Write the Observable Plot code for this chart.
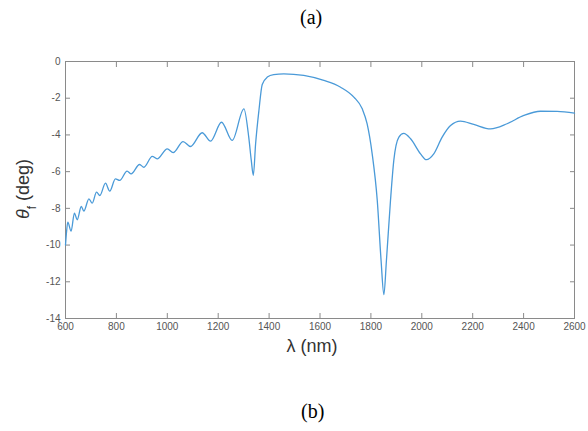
<!DOCTYPE html>
<html>
<head>
<meta charset="utf-8">
<script src="https://cdn.jsdelivr.net/npm/d3@7"></script>
<script src="https://cdn.jsdelivr.net/npm/@observablehq/plot@0.6"></script>
<style>
  html, body { margin: 0; padding: 0; background: #fff; }
  #wrap { position: relative; width: 588px; height: 431px; overflow: hidden; }
  #chart { position: absolute; left: 0; top: 0; }
  .cap { position: absolute; font-family: "Liberation Serif", "DejaVu Serif", serif; font-size: 20px; color: #000; }
  .ylab { position: absolute; font-family: "Liberation Sans", Arial, sans-serif; font-size: 18px; line-height: 22px; color: #333;
          transform: rotate(-90deg); transform-origin: center center; white-space: nowrap; text-align: center; }
  .xlab { position: absolute; font-family: "Liberation Sans", Arial, sans-serif; font-size: 18px; color: #333; white-space: nowrap; text-align: center; }
</style>
</head>
<body>
<div id="wrap">
  <div id="chart"></div>
  <div class="cap" style="left:300px; top:6px;">(a)</div>
  <div class="cap" style="left:301px; top:400px;">(b)</div>
  <div class="ylab" style="left:-22px; top:178px; width:90px; height:22px;"><i>θ</i><sub style="font-size:12px; position:relative; top:2px;">f</sub> (deg)</div>
  <div class="xlab" style="left:252px; top:336px; width:120px;">λ (nm)</div>
</div>
<script>
const lambda = [600, 604, 609, 622, 635, 646, 662, 672, 692, 705, 722, 735, 757, 774, 796, 813, 842, 858, 891, 908, 941, 960, 1000, 1023, 1062, 1091, 1137, 1170, 1213, 1255, 1301, 1320, 1330, 1338, 1347, 1360, 1373, 1393, 1418, 1458, 1536, 1615, 1681, 1733, 1766, 1785, 1805, 1825, 1840, 1851, 1861, 1877, 1890, 1910, 1929, 1956, 1995, 2018, 2047, 2080, 2113, 2152, 2204, 2270, 2335, 2401, 2466, 2532, 2600];
const theta = [-10.0, -9.3, -8.75, -9.24, -8.26, -8.62, -7.90, -8.15, -7.48, -7.72, -7.12, -7.30, -6.63, -7.06, -6.39, -6.48, -5.97, -6.12, -5.61, -5.76, -5.17, -5.30, -4.76, -4.96, -4.36, -4.63, -3.88, -4.34, -3.31, -4.30, -2.58, -4.12, -5.39, -6.2, -4.48, -2.67, -1.25, -0.85, -0.71, -0.67, -0.76, -1.03, -1.40, -1.94, -2.58, -3.39, -5.03, -7.57, -10.84, -12.7, -10.84, -7.57, -5.39, -4.12, -3.92, -4.21, -5.03, -5.35, -5.03, -4.12, -3.49, -3.25, -3.43, -3.67, -3.39, -2.94, -2.71, -2.72, -2.81];
const xTicks = [600, 800, 1000, 1200, 1400, 1600, 1800, 2000, 2200, 2400, 2600];
const yTicks = [0, -2, -4, -6, -8, -10, -12, -14];

const data = lambda.map((x, i) => ({x, y: theta[i]}));
const axisColor = "#8a8a8a";
const labelColor = "#555";
const fmt = d => String(d);

const chart = Plot.plot({
  width: 588,
  height: 431,
  marginLeft: 65,
  marginRight: 14,
  marginTop: 61,
  marginBottom: 113,
  style: {fontFamily: "'Liberation Sans', Arial, sans-serif", fontSize: "10px", background: "transparent"},
  x: {domain: [600, 2600]},
  y: {domain: [-14, 0]},
  marks: [
    Plot.frame({stroke: axisColor, strokeWidth: 1}),
    Plot.axisX(xTicks, {anchor: "bottom", tickSize: -5, tickPadding: 9, stroke: axisColor, fill: labelColor, tickFormat: fmt, label: null}),
    Plot.axisX(xTicks, {anchor: "top", tickSize: -5, stroke: axisColor, tickFormat: () => "", label: null}),
    Plot.axisY(yTicks, {anchor: "left", tickSize: -5, tickPadding: 10, stroke: axisColor, fill: labelColor, tickFormat: fmt, label: null}),
    Plot.axisY(yTicks, {anchor: "right", tickSize: -5, stroke: axisColor, tickFormat: () => "", label: null}),
    Plot.line(data, {x: "x", y: "y", stroke: "#4a9ad8", strokeWidth: 1.3, curve: "monotone-x"})
  ]
});
document.getElementById("chart").appendChild(chart);
</script>
</body>
</html>
